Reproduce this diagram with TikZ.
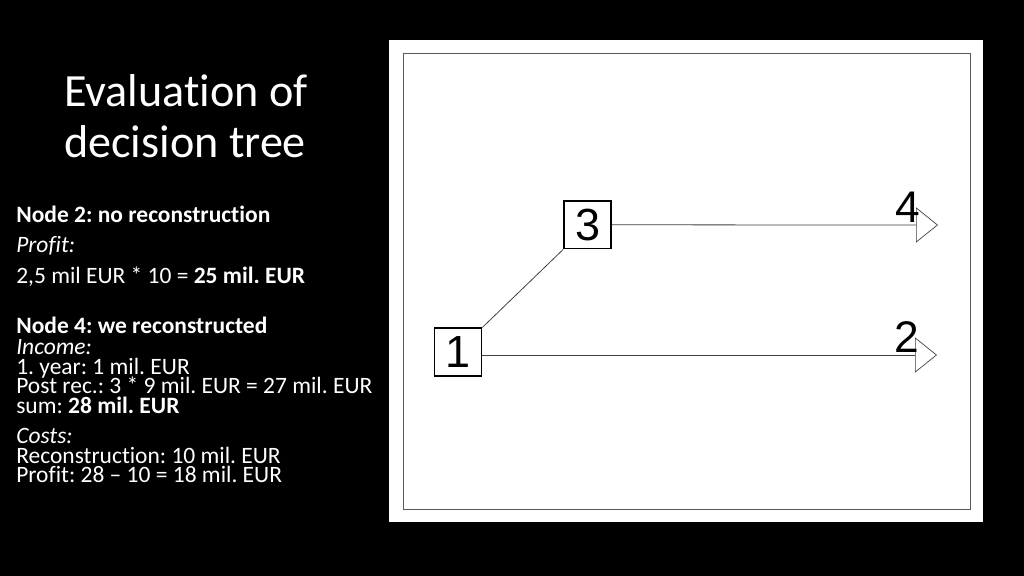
\documentclass[tikz,border=0pt]{standalone}
\usepackage{fontspec}
\setmainfont{Carlito}[Ligatures=NoCommon]
\newfontfamily\diagfont{Liberation Sans}
\usetikzlibrary{positioning,arrows.meta}
\frenchspacing

\tikzset{
    slidetitle/.style={text=white, anchor=base west, inner sep=0pt, font=\fontsize{32.8}{36}\selectfont},
    bodytext/.style={text=white, anchor=base west, inner sep=0pt, font=\fontsize{16.7}{20}\selectfont},
    dbox/.style={draw=black, line width=1.1pt, rectangle, fill=white, minimum width=1.18cm, minimum height=1.19cm, inner sep=0pt, font=\diagfont\fontsize{32}{34}\selectfont},
    branch/.style={draw=black!75, line width=0.55pt},
    endlabel/.style={anchor=base, inner sep=0pt, font=\diagfont\fontsize{31.5}{34}\selectfont},
    openarrow/.style={-{Triangle[open, length=0.55cm, width=0.88cm, line width=0.5pt]}}
}

\begin{document}
\begin{tikzpicture}[x=0.025cm, y=-0.025cm]
    % slide background
    \fill [black] (0,0) rectangle (1024,576);
    \useasboundingbox (0,0) rectangle (1024,576);

    % title
    \node [slidetitle] (title1) at (64,107) {Evaluation of};
    \node [slidetitle] (title2) at (64,158) {decision tree};

    % left column
    \node [bodytext] (n2head) at (16,223) {\textbf{Node 2: no reconstruction}};
    \node [bodytext] (n2prof) at (16,253) {\textit{Profit:}};
    \node [bodytext] (n2calc) at (16,284) {2,5 mil EUR * 10 = \textbf{25 mil. EUR}};
    \node [bodytext] (n4head) at (16,334) {\textbf{Node 4: we reconstructed}};
    \node [bodytext] (n4inc) at (16,354) {\textit{Income:}};
    \node [bodytext] (n4year) at (16,374) {1. year: 1 mil. EUR};
    \node [bodytext] (n4post) at (16,393) {Post rec.: 3 * 9 mil. EUR = 27 mil. EUR};
    \node [bodytext] (n4sum) at (16,413) {sum: \textbf{28 mil. EUR}};
    \node [bodytext] (n4cost) at (16,443) {\textit{Costs:}};
    \node [bodytext] (n4rec) at (16,463) {Reconstruction: 10 mil. EUR};
    \node [bodytext] (n4prof) at (16,482) {Profit: 28 -- 10 = 18 mil. EUR};

    % picture frame
    \fill [white] (389,40) rectangle (983,522);
    \draw [black!65, line width=0.7pt] (403,53) rectangle (970,509);

    % decision tree
    \node [dbox] (n1) at (458,352) {1};
    \node [dbox, above right=1.95cm and 2.02cm of n1] (n3) {3};
    \coordinate (e4) at (938,225);
    \coordinate (e2) at (937,355);

    \draw [branch] (n1.north east) -- (n3.south west);
    \draw [branch, openarrow] (n3.east) -- (e4);
    \draw [branch, openarrow] (n1.east |- e2) -- (e2);

    \node [endlabel] (l4) at (908,223) {4};
    \node [endlabel] (l2) at (907,352) {2};
\end{tikzpicture}
\end{document}
